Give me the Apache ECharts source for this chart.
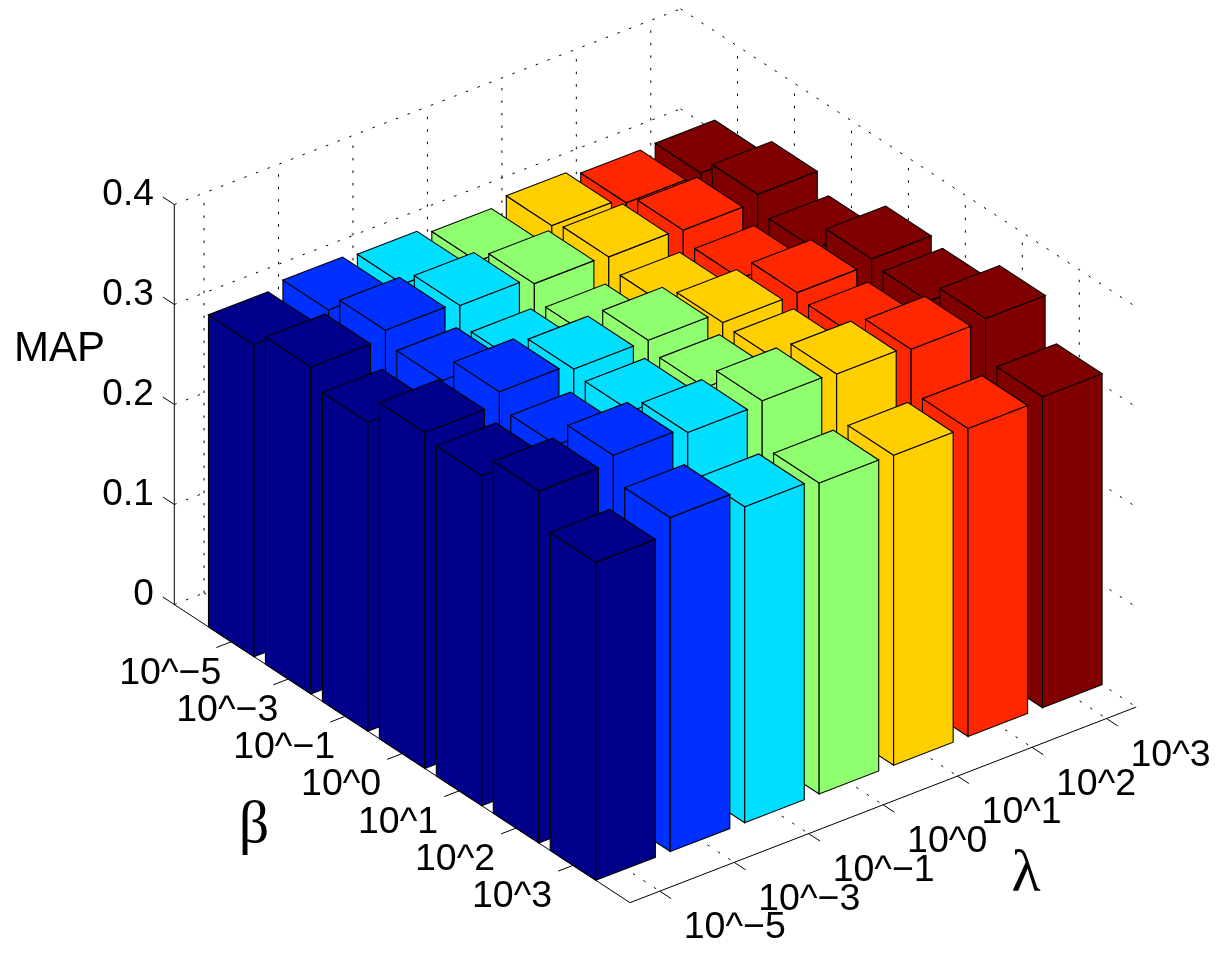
<!DOCTYPE html>
<html>
<head>
<meta charset="utf-8">
<script src="https://cdn.jsdelivr.net/npm/echarts@6/dist/echarts.min.js"></script>
<style>html,body{margin:0;padding:0;background:#fff}#c{width:1220px;height:954px}</style>
</head>
<body>
<div id="c"></div>
<script>
// ---- data -------------------------------------------------------------
const lambdaLabels = ['10^\u22125','10^\u22123','10^\u22121','10^0','10^1','10^2','10^3'];
const betaLabels   = ['10^\u22125','10^\u22123','10^\u22121','10^0','10^1','10^2','10^3'];
const zTicks = [0, 0.1, 0.2, 0.3, 0.4];
const zTickLabels = ['0','0.1','0.2','0.3','0.4'];
const barColors = ['#00008A','#0030FF','#00DFFF','#8FFF70','#FFCF00','#FF2700','#800000'];
// MAP for each lambda, in beta order
const mapL1 = [0.312,0.327,0.309,0.336,0.330,0.352,0.318];
const mapL2 = [0.318,0.335,0.322,0.348,0.332,0.359,0.334];
const mapL3 = [0.315,0.331,0.312,0.342,0.337,0.353,0.316];
const mapL4 = [0.309,0.324,0.308,0.342,0.332,0.356,0.311];
const mapL5 = [0.316,0.322,0.311,0.331,0.329,0.354,0.310];
const mapL6 = [0.310,0.320,0.309,0.332,0.327,0.350,0.308];
const mapL7 = [0.311,0.327,0.310,0.337,0.332,0.352,0.311];
const mapByLambda = [mapL1,mapL2,mapL3,mapL4,mapL5,mapL6,mapL7];

// ---- oblique projection of (lambda, beta, z) to the plot plane ----------
const LMIN = 0.6, LMAX = 7.4, BMIN = 0, BMAX = 8, BAR = 0.4;
function project(l, b, z) {
  return [
    174.3 + (l - LMIN) * 74.45 + b * 56.96,
    604.5 - (l - LMIN) * 28.77 + b * 37.27 - z * 1000
  ];
}
const lTicks = lambdaLabels.map((_, i) => i + 1);
const bTicks = betaLabels.map((_, i) => i + 1);

// grid line segments: [l1,b1,z1,l2,b2,z2]
const gridSegs = [];
const ZTOP = zTicks[zTicks.length - 1];
lTicks.forEach(l => {
  gridSegs.push([l, BMIN, 0, l, BMAX, 0]);
  gridSegs.push([l, BMIN, 0, l, BMIN, ZTOP]);
});
bTicks.forEach(b => {
  gridSegs.push([LMIN, b, 0, LMAX, b, 0]);
  gridSegs.push([LMAX, b, 0, LMAX, b, ZTOP]);
});
zTicks.forEach(z => {
  gridSegs.push([LMIN, BMIN, z, LMAX, BMIN, z]);
  gridSegs.push([LMAX, BMIN, z, LMAX, BMAX, z]);
});
// solid axes and their ticks
const TICK = 0.2;
const axisSegs = [
  [LMIN, BMIN, 0, LMIN, BMIN, ZTOP],
  [LMIN, BMIN, 0, LMIN, BMAX, 0],
  [LMIN, BMAX, 0, LMAX, BMAX, 0]
];
zTicks.forEach(z => axisSegs.push([LMIN, BMIN, z, LMIN, BMIN - TICK, z]));
bTicks.forEach(b => axisSegs.push([LMIN, b, 0, LMIN - TICK, b, 0]));
lTicks.forEach(l => axisSegs.push([l, BMAX, 0, l, BMAX + TICK, 0]));

function segRender(style) {
  return function (params, api) {
    const p = [0,1,2,3,4,5].map(k => api.value(k));
    const a = api.coord(project(p[0], p[1], p[2]));
    const c = api.coord(project(p[3], p[4], p[5]));
    return { type: 'line', silent: true,
      shape: { x1: a[0], y1: a[1], x2: c[0], y2: c[1] },
      style: Object.assign({ fill: null, stroke: '#000', lineWidth: 1 }, style) };
  };
}

function barRender(color, lambdaPos) {
  return function (params, api) {
    const b = api.value(0), z = api.value(1), l = lambdaPos;
    const P = (ll, bb, zz) => api.coord(project(ll, bb, zz));
    const L = [l - BAR, b - BAR], B = [l + BAR, b - BAR],
          R = [l + BAR, b + BAR], F = [l - BAR, b + BAR];
    const st = { fill: color, stroke: '#000', lineWidth: 1.1, lineJoin: 'miter' };
    const poly = pts => ({ type: 'polygon', silent: true, shape: { points: pts }, style: st });
    return { type: 'group', children: [
      poly([P(L[0],L[1],z), P(F[0],F[1],z), P(F[0],F[1],0), P(L[0],L[1],0)]),
      poly([P(F[0],F[1],z), P(R[0],R[1],z), P(R[0],R[1],0), P(F[0],F[1],0)]),
      poly([P(L[0],L[1],z), P(B[0],B[1],z), P(R[0],R[1],z), P(F[0],F[1],z)])
    ]};
  };
}

// text rows: [text, kind, l, b, z]
const textRows = [];
zTicks.forEach((z, i) => textRows.push([zTickLabels[i], 'z', LMIN, BMIN, z]));
betaLabels.forEach((t, i) => textRows.push([t, 'b', LMIN, bTicks[i], 0]));
lambdaLabels.forEach((t, i) => textRows.push([t, 'l', lTicks[i], BMAX, 0]));
const TEXT_STYLE = {
  z: { dx: -20.5, dy: -10, align: 'right', size: 37 },
  b: { dx: -61,   dy: 31.5, align: 'center', size: 37.5 },
  l: { dx: 24,    dy: 37,  align: 'left',  size: 37.5 }
};

const series = [
  { type: 'custom', coordinateSystem: 'cartesian2d', clip: false, silent: true,
    renderItem: segRender({ lineDash: [2.5, 10] }), data: gridSegs, animation: false, z: 1 },
  { type: 'custom', coordinateSystem: 'cartesian2d', clip: false, silent: true,
    renderItem: segRender({}), data: axisSegs, animation: false, z: 2 }
];
// painter's order: far lambda first, beta ascending
for (let i = mapByLambda.length - 1; i >= 0; i--) {
  series.push({
    type: 'custom', name: lambdaLabels[i], coordinateSystem: 'cartesian2d', clip: false, silent: true,
    renderItem: barRender(barColors[i], lTicks[i]),
    data: mapByLambda[i].map((v, j) => [bTicks[j], v]),
    animation: false, z: 3
  });
}
series.push({
  type: 'custom', coordinateSystem: 'cartesian2d', clip: false, silent: true, animation: false, z: 4,
  data: textRows.map((r, i) => [i]),
  renderItem: function (params, api) {
    const r = textRows[params.dataIndex], s = TEXT_STYLE[r[1]];
    const c = api.coord(project(r[2], r[3], r[4]));
    return { type: 'text', silent: true, x: c[0] + s.dx, y: c[1] + s.dy,
      style: { text: r[0], fill: '#000', fontFamily: 'Liberation Sans', fontSize: s.size,
               align: s.align, verticalAlign: 'middle' } };
  }
});

const chart = echarts.init(document.getElementById('c'), null, { renderer: 'canvas', width: 1220, height: 954 });
chart.setOption({
  backgroundColor: '#fff',
  animation: false,
  grid: { left: 0, right: 0, top: 0, bottom: 0, containLabel: false },
  xAxis: { type: 'value', min: 0, max: 1220, show: false },
  yAxis: { type: 'value', min: 0, max: 954, inverse: true, show: false },
  graphic: [
    { type: 'text', x: 14, y: 349, silent: true, style: { text: 'MAP', fill: '#000',
      fontFamily: 'Liberation Sans', fontSize: 42, align: 'left', verticalAlign: 'middle' } },
    { type: 'text', x: 254, y: 826, silent: true, style: { text: '\u03B2', fill: '#000',
      fontFamily: 'Liberation Serif', fontSize: 60, align: 'center', verticalAlign: 'middle' } },
    { type: 'text', x: 1026, y: 875, silent: true, style: { text: '\u03BB', fill: '#000',
      fontFamily: 'Liberation Serif', fontSize: 60, align: 'center', verticalAlign: 'middle' } }
  ],
  series: series
});
</script>
</body>
</html>
